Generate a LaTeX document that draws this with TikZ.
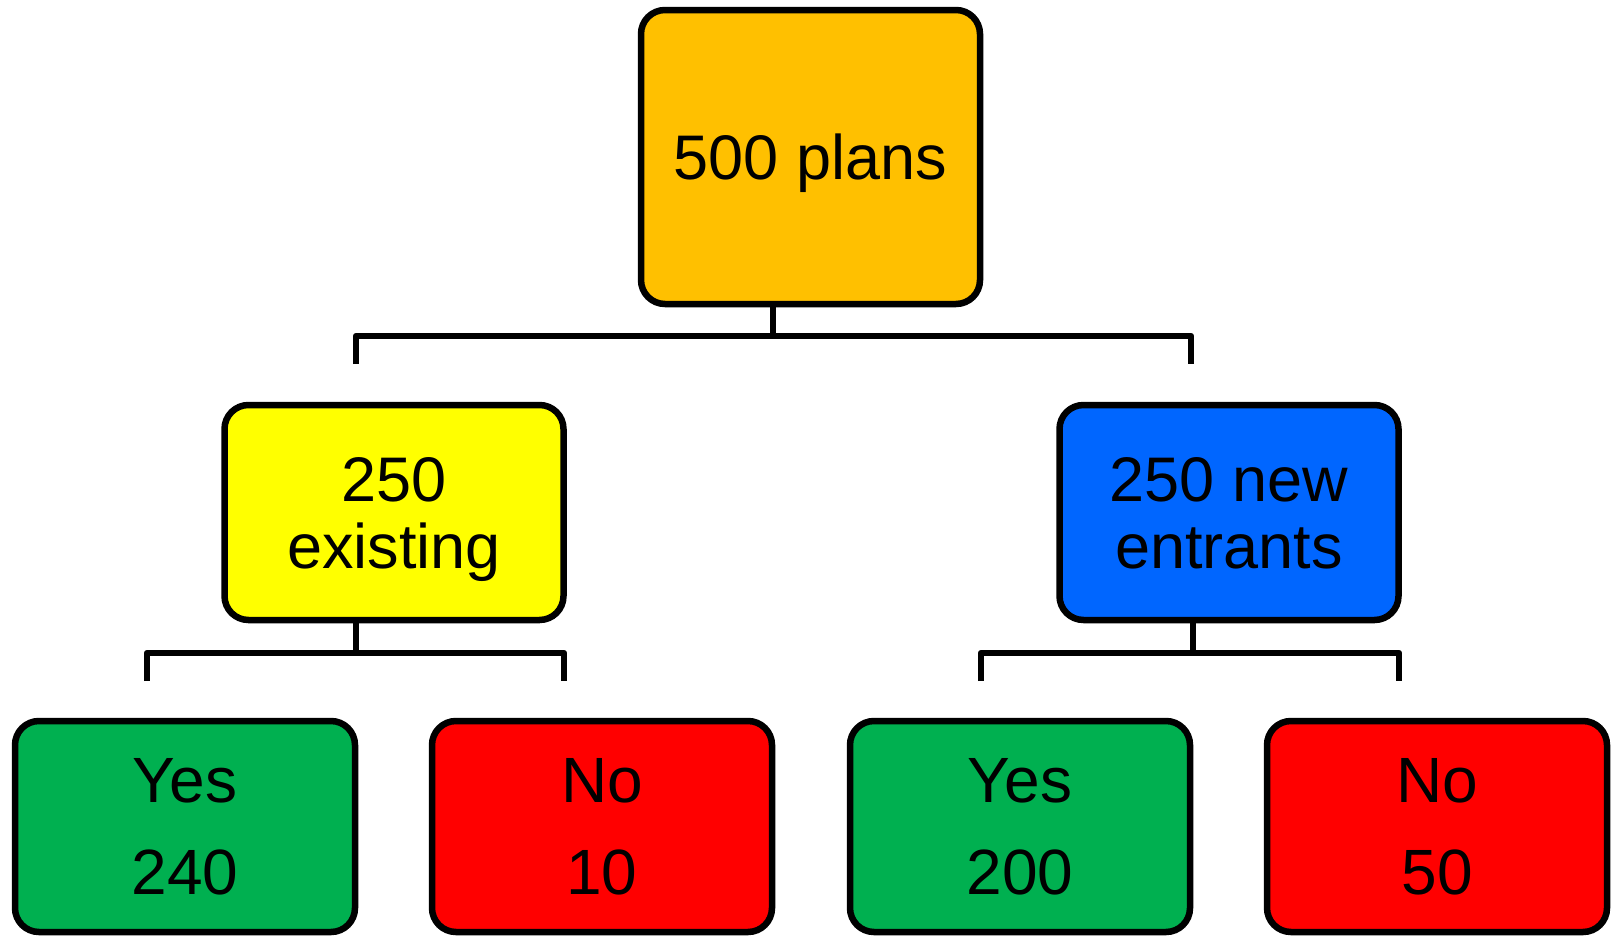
\documentclass[tikz,border=0pt]{standalone}
\usepackage{fontspec}
\setmainfont{Liberation Sans}
\definecolor{cOrange}{HTML}{FFC000}
\definecolor{cYellow}{HTML}{FFFF00}
\definecolor{cBlue}{HTML}{0066FF}
\definecolor{cGreen}{HTML}{00B050}
\definecolor{cRed}{HTML}{FF0000}
\tikzset{
  box/.style={draw=black, line width=6.5pt, rounded corners=24pt, inner sep=0pt, outer sep=0pt,
    align=center, font=\fontsize{63}{67}\selectfont, text depth=0pt},
  midbox/.style={box, minimum width=339pt, minimum height=215pt},
  leafbox/.style={box, minimum width=340pt, minimum height=211pt, font=\fontsize{64}{92}\selectfont},
  conn/.style={draw=black, line width=6.5pt, line join=round},
}
\begin{document}
\begin{tikzpicture}[x=1pt, y=-1pt]
\useasboundingbox (0,0) rectangle (1614,937);
\node[box, fill=cOrange, minimum width=339pt, minimum height=294pt] (top) at (810.5,157) {500 plans};
\node[midbox, fill=cYellow] (exist) at (394,512.5) {250\\existing};
\node[midbox, fill=cBlue] (newent) at (1229,512.5) {250 new\\entrants};
\node[leafbox, fill=cGreen] (y1) at (185,826.5) {Yes\\240};
\node[leafbox, fill=cRed] (n1) at (602,826.5) {No\\10};
\node[leafbox, fill=cGreen] (y2) at (1020,826.5) {Yes\\200};
\node[leafbox, fill=cRed] (n2) at (1437,826.5) {No\\50};
% bracket coordinates
\coordinate (j0) at (773,336);
\coordinate (d1) at (356,364);
\coordinate (d2) at (1191,364);
\coordinate (j1) at (356,653);
\coordinate (d3) at (147,681);
\coordinate (d4) at (564,681);
\coordinate (j2) at (1193,653);
\coordinate (d5) at (981,681);
\coordinate (d6) at (1399,681);
\draw[conn] (top.south -| j0) -- (j0);
\draw[conn] (d1) |- (j0) -| (d2);
\draw[conn] (exist.south -| j1) -- (j1);
\draw[conn] (d3) |- (j1) -| (d4);
\draw[conn] (newent.south -| j2) -- (j2);
\draw[conn] (d5) |- (j2) -| (d6);
\end{tikzpicture}
\end{document}
